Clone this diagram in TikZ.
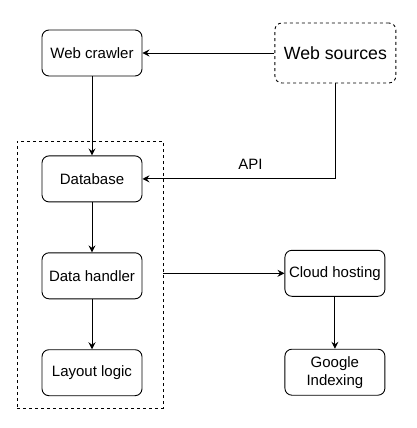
\documentclass[tikz,border=0pt]{standalone}
\usepackage{fontspec}
\setmainfont{Liberation Sans}
\usetikzlibrary{positioning,arrows.meta}

\begin{document}
\begin{tikzpicture}[x=1pt,y=-1pt,line width=0.9pt,font=\fontsize{15}{18}\selectfont,
  >={Stealth[length=7pt,width=7pt,inset=2.5pt]},
  box/.style={draw,rounded corners=7pt,minimum width=100pt,minimum height=46pt,align=center,inner sep=2pt},
  srcbox/.style={box,dashed,minimum width=121pt,minimum height=60pt,font=\fontsize{17.7}{21}\selectfont},
  group/.style={draw,dashed,minimum width=146pt,minimum height=267pt,inner sep=0pt}]
\useasboundingbox (0,0) rectangle (417,428);
\node[group] (grp) at (90,274.5) {};
\node[box] (crawler) at (92,53) {Web crawler};
\node[srcbox,right=132pt of crawler] (src) {Web sources};
\node[box,below=79pt of crawler] (db) {Database};
\node[box,below=50pt of db] (dh) {Data handler};
\node[box,below=50pt of dh] (layout) {Layout logic};
\node[box,right=142pt of dh,yshift=2.5pt] (cloud) {Cloud hosting};
\node[box,below=52pt of cloud] (google) {Google\\Indexing};
\draw[->] (src) -- (crawler);
\draw[->] (crawler) -- (db);
\draw[->] (src.south) |- node[above=6pt,pos=0.72] (api) {API} (db.east);
\draw[->] (db) -- (dh); \draw[->] (dh) -- (layout);
\draw[->] (grp.east |- cloud.west) -- (cloud.west);
\draw[->] (cloud) -- (google);
\end{tikzpicture}
\end{document}
